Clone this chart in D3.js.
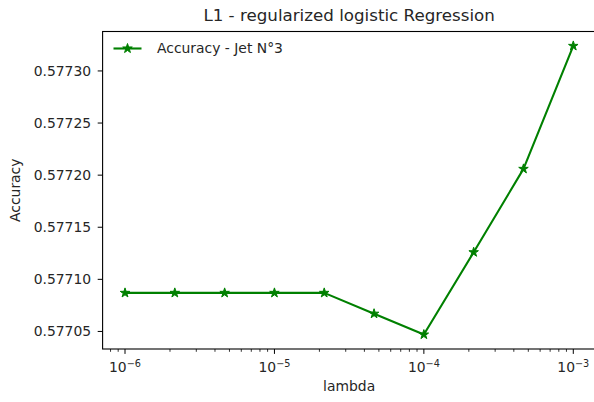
<!DOCTYPE html>
<html>
<head>
<meta charset="utf-8">
<script src="https://cdn.jsdelivr.net/npm/d3@7"></script>
<style>
body { margin: 0; background: #fff; }
svg { display: block; font-family: "DejaVu Sans", sans-serif; }
</style>
</head>
<body>
<svg id="chart" width="594" height="402"></svg>
<script>
const lambdas = [1e-6, 2.154e-6, 4.642e-6, 1e-5, 2.154e-5, 4.642e-5, 1e-4, 2.154e-4, 4.642e-4, 1e-3];
const accuracy = [0.577087, 0.577087, 0.577087, 0.577087, 0.577087, 0.577067, 0.577047, 0.577126, 0.577206, 0.577324];
const yTicks = [0.57705, 0.57710, 0.57715, 0.57720, 0.57725, 0.57730];
const xTicks = [1e-6, 1e-5, 1e-4, 1e-3];
const xTickExp = ["−6", "−5", "−4", "−3"];
const seriesName = "Accuracy - Jet N°3";
const titleText = "L1 - regularized logistic Regression";

const svg = d3.select("#chart");
const L = 102.6, R = 595.7, T = 31.5, B = 349;
const color = "#008000";

const lx0 = Math.log10(d3.min(lambdas)), lx1 = Math.log10(d3.max(lambdas));
const mx = (lx1 - lx0) * 0.05;
const x = d3.scaleLog().domain([Math.pow(10, lx0 - mx), Math.pow(10, lx1 + mx)]).range([L, R]);
const ymin = d3.min(accuracy), ymax = d3.max(accuracy), my = (ymax - ymin) * 0.05;
const y = d3.scaleLinear().domain([ymin - my, ymax + my]).range([B, T]);

// minor ticks
const minor = [];
for (let e = -7; e <= -3; e++) for (let m = 2; m <= 9; m++) {
  const v = m * Math.pow(10, e);
  if (v >= x.domain()[0] && v <= x.domain()[1]) minor.push(v);
}
svg.append("g").selectAll("line").data(minor).join("line")
  .attr("x1", d => x(d)).attr("x2", d => x(d)).attr("y1", B).attr("y2", B + 2.8)
  .attr("stroke", "#000").attr("stroke-width", 0.8);

// x axis major
const gx = svg.append("g");
gx.selectAll("line").data(xTicks).join("line")
  .attr("x1", d => x(d)).attr("x2", d => x(d)).attr("y1", B).attr("y2", B + 4.9)
  .attr("stroke", "#000").attr("stroke-width", 1);
const xt = gx.selectAll("text").data(xTicks).join("text")
  .attr("x", d => x(d)).attr("y", B + 22.5)
  .attr("text-anchor", "middle").attr("font-size", 13.9).attr("fill", "#262626");
xt.append("tspan").text("10");
xt.append("tspan").attr("dy", -5).attr("font-size", 9.7).text((d, i) => xTickExp[i]);

// y axis
const gy = svg.append("g");
gy.selectAll("line").data(yTicks).join("line")
  .attr("x1", L - 4.9).attr("x2", L).attr("y1", d => y(d)).attr("y2", d => y(d))
  .attr("stroke", "#000").attr("stroke-width", 1);
gy.selectAll("text").data(yTicks).join("text")
  .attr("x", L - 11.5).attr("y", d => y(d)).attr("dy", "0.35em")
  .attr("text-anchor", "end").attr("font-size", 13.9).attr("fill", "#262626")
  .text(d => d3.format(".5f")(d));

// spines
svg.append("rect").attr("x", L).attr("y", T).attr("width", R - L).attr("height", B - T)
  .attr("fill", "none").attr("stroke", "#000").attr("stroke-width", 1.1);

// star path
function starPath(r) {
  const ri = r * 0.381966;
  let p = "";
  for (let i = 0; i < 10; i++) {
    const a = -Math.PI / 2 + i * Math.PI / 5;
    const rr = i % 2 === 0 ? r : ri;
    p += (i === 0 ? "M" : "L") + (rr * Math.cos(a)).toFixed(3) + "," + (rr * Math.sin(a)).toFixed(3);
  }
  return p + "Z";
}

const pts = lambdas.map((d, i) => [d, accuracy[i]]);
svg.append("path").datum(pts)
  .attr("d", d3.line().x(d => x(d[0])).y(d => y(d[1])))
  .attr("fill", "none").attr("stroke", color).attr("stroke-width", 2.1).attr("stroke-linejoin", "round");
svg.append("g").selectAll("path").data(pts).join("path")
  .attr("transform", d => `translate(${x(d[0])},${y(d[1])})`)
  .attr("d", starPath(5)).attr("fill", color).attr("stroke", color).attr("stroke-width", 1);

// legend
const lg = svg.append("g");
lg.append("line").attr("x1", 113.5).attr("x2", 141.5).attr("y1", 48.5).attr("y2", 48.5)
  .attr("stroke", color).attr("stroke-width", 2.1);
lg.append("path").attr("transform", "translate(127.5,48.5)").attr("d", starPath(5))
  .attr("fill", color).attr("stroke", color).attr("stroke-width", 1);
lg.append("text").attr("x", 157).attr("y", 48.5).attr("dy", "0.35em")
  .attr("font-size", 13.9).attr("fill", "#262626").text(seriesName);

// labels
svg.append("text").attr("x", (L + R) / 2).attr("y", 21).attr("text-anchor", "middle")
  .attr("font-size", 16.7).attr("fill", "#262626").text(titleText);
svg.append("text").attr("x", (L + R) / 2).attr("y", 391).attr("text-anchor", "middle")
  .attr("font-size", 13.9).attr("fill", "#262626").text("lambda");
svg.append("text").attr("transform", `translate(20,${(T + B) / 2}) rotate(-90)`).attr("text-anchor", "middle")
  .attr("font-size", 13.9).attr("fill", "#262626").text("Accuracy");
</script>
</body>
</html>
